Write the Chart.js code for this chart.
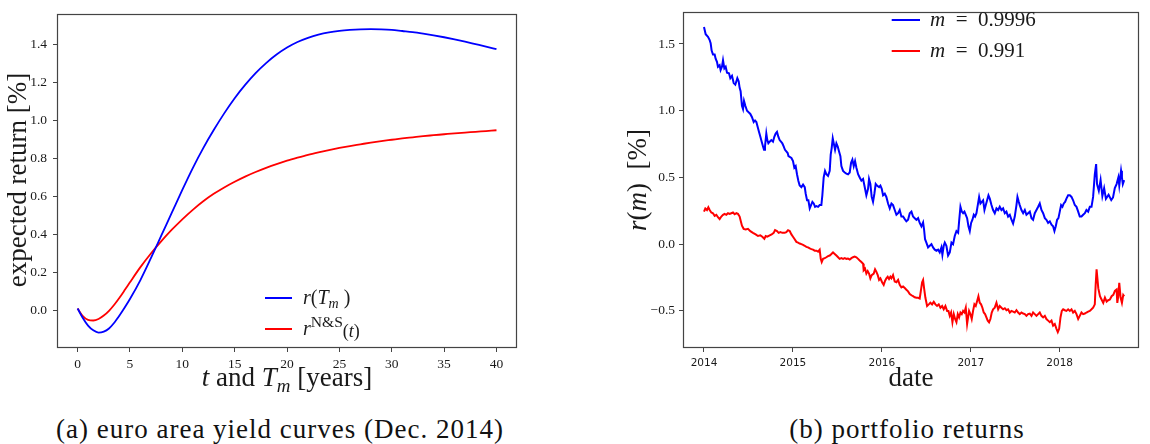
<!DOCTYPE html>
<html>
<head>
<meta charset="utf-8">
<script src="https://cdn.jsdelivr.net/npm/chart.js@4.4.1/dist/chart.umd.min.js"></script>
<style>
  html, body { margin:0; padding:0; background:#fff; }
  #wrap { position:relative; width:1150px; height:444px; overflow:hidden; }
  canvas { position:absolute; top:0; }
  .cap { position:absolute; top:413px; font-family:"Liberation Serif", serif; font-size:27px; letter-spacing:1px; color:#111; white-space:nowrap; transform:translateX(-50%); line-height:32px; }
</style>
</head>
<body>
<div id="wrap">
  <canvas id="c1" width="575" height="400" style="left:0px"></canvas>
  <canvas id="c2" width="575" height="400" style="left:575px"></canvas>
  <div class="cap" style="left:280px">(a) euro area yield curves (Dec. 2014)</div>
  <div class="cap" style="left:907px">(b) portfolio returns</div>
</div>
<script>
// ---------- (a) yield curves ----------
const maturities = [0,0.5,1,1.5,2,2.5,3,3.5,4,4.5,5,6,7,8,9,10,11,12,13,14,15,16,17,18,19,20,21,22,23,24,25,26,27,28,29,30,31,32,33,34,35,36,37,38,39,40];
const rTm = [0.01,-0.04,-0.08,-0.105,-0.117,-0.112,-0.095,-0.065,-0.027,0.015,0.06,0.16,0.275,0.395,0.515,0.635,0.75,0.855,0.95,1.038,1.118,1.188,1.25,1.303,1.348,1.385,1.414,1.436,1.453,1.465,1.473,1.478,1.481,1.482,1.481,1.478,1.472,1.466,1.458,1.449,1.439,1.428,1.416,1.403,1.39,1.376];
const rNS = [0.01,-0.03,-0.05,-0.053,-0.045,-0.027,-0.002,0.03,0.067,0.107,0.148,0.228,0.3,0.365,0.425,0.48,0.53,0.575,0.614,0.648,0.678,0.705,0.729,0.751,0.771,0.789,0.805,0.82,0.833,0.845,0.856,0.866,0.875,0.884,0.892,0.899,0.906,0.912,0.918,0.923,0.928,0.933,0.937,0.941,0.945,0.949];
const aTicksX = [0,5,10,15,20,25,30,35,40];
const aTicksY = [0.0,0.2,0.4,0.6,0.8,1.0,1.2,1.4];

// ---------- (b) portfolio returns ----------
const blueDates = [2014.000,2014.019,2014.045,2014.064,2014.075,2014.086,2014.101,2014.120,2014.131,2014.146,2014.157,2014.176,2014.187,2014.202,2014.214,2014.229,2014.244,2014.259,2014.281,2014.296,2014.315,2014.334,2014.352,2014.375,2014.390,2014.401,2014.412,2014.427,2014.439,2014.450,2014.465,2014.484,2014.502,2014.521,2014.540,2014.559,2014.574,2014.589,2014.604,2014.619,2014.634,2014.649,2014.664,2014.675,2014.686,2014.701,2014.712,2014.724,2014.739,2014.757,2014.776,2014.791,2014.806,2014.821,2014.836,2014.851,2014.866,2014.881,2014.896,2014.911,2014.926,2014.941,2014.950,2014.983,2015.001,2015.016,2015.031,2015.046,2015.061,2015.076,2015.095,2015.114,2015.133,2015.144,2015.159,2015.174,2015.189,2015.204,2015.219,2015.234,2015.249,2015.264,2015.283,2015.301,2015.320,2015.331,2015.346,2015.361,2015.376,2015.395,2015.414,2015.425,2015.436,2015.448,2015.459,2015.474,2015.489,2015.504,2015.519,2015.534,2015.545,2015.564,2015.583,2015.601,2015.620,2015.639,2015.654,2015.669,2015.684,2015.699,2015.714,2015.733,2015.751,2015.770,2015.789,2015.808,2015.826,2015.845,2015.856,2015.871,2015.886,2015.901,2015.916,2015.931,2015.946,2015.969,2015.984,2015.999,2016.014,2016.033,2016.051,2016.070,2016.089,2016.108,2016.126,2016.145,2016.164,2016.183,2016.201,2016.220,2016.239,2016.258,2016.276,2016.295,2016.314,2016.333,2016.351,2016.370,2016.389,2016.408,2016.426,2016.445,2016.464,2016.475,2016.486,2016.501,2016.520,2016.539,2016.558,2016.576,2016.595,2016.614,2016.633,2016.651,2016.670,2016.681,2016.696,2016.708,2016.726,2016.745,2016.764,2016.783,2016.801,2016.820,2016.839,2016.858,2016.869,2016.884,2016.899,2016.914,2016.929,2016.944,2016.959,2016.974,2016.989,2017.004,2017.019,2017.034,2017.049,2017.064,2017.079,2017.094,2017.109,2017.124,2017.139,2017.154,2017.169,2017.184,2017.199,2017.214,2017.233,2017.251,2017.270,2017.289,2017.308,2017.326,2017.345,2017.364,2017.383,2017.401,2017.420,2017.439,2017.458,2017.476,2017.495,2017.514,2017.525,2017.540,2017.551,2017.570,2017.589,2017.608,2017.626,2017.645,2017.664,2017.683,2017.701,2017.720,2017.739,2017.758,2017.776,2017.795,2017.814,2017.833,2017.851,2017.870,2017.889,2017.908,2017.926,2017.941,2017.956,2017.971,2017.986,2018.001,2018.016,2018.031,2018.046,2018.061,2018.076,2018.095,2018.114,2018.133,2018.151,2018.170,2018.189,2018.208,2018.226,2018.245,2018.264,2018.283,2018.301,2018.320,2018.339,2018.358,2018.376,2018.395,2018.410,2018.420,2018.440,2018.460,2018.480,2018.500,2018.520,2018.550,2018.580,2018.600,2018.620,2018.640,2018.660,2018.670,2018.690,2018.700,2018.710,2018.725];
const blueReturns = [1.627,1.573,1.554,1.529,1.505,1.451,1.422,1.422,1.390,1.366,1.329,1.341,1.305,1.329,1.378,1.317,1.329,1.285,1.280,1.244,1.261,1.207,1.195,1.244,1.220,1.171,1.146,1.037,1.012,1.073,1.037,1.000,0.988,0.976,0.951,0.915,0.927,0.915,0.878,0.841,0.805,0.768,0.732,0.707,0.732,0.829,0.780,0.756,0.768,0.780,0.768,0.805,0.829,0.841,0.805,0.780,0.768,0.756,0.732,0.707,0.695,0.683,0.660,0.646,0.622,0.573,0.585,0.524,0.476,0.439,0.427,0.446,0.427,0.378,0.329,0.329,0.268,0.293,0.317,0.305,0.280,0.285,0.280,0.293,0.293,0.366,0.500,0.549,0.524,0.512,0.549,0.671,0.720,0.793,0.756,0.707,0.756,0.732,0.695,0.659,0.585,0.549,0.537,0.529,0.524,0.537,0.610,0.634,0.585,0.622,0.573,0.524,0.500,0.476,0.488,0.427,0.366,0.415,0.488,0.451,0.354,0.317,0.378,0.451,0.439,0.427,0.439,0.415,0.366,0.378,0.354,0.305,0.268,0.305,0.293,0.256,0.220,0.232,0.256,0.207,0.207,0.188,0.171,0.183,0.232,0.244,0.207,0.195,0.183,0.195,0.159,0.134,0.163,0.110,0.037,0.012,-0.024,-0.012,0.000,-0.024,-0.041,-0.049,-0.041,-0.061,-0.024,-0.080,-0.012,0.012,-0.012,-0.085,-0.061,0.012,0.000,0.061,0.098,0.085,0.171,0.280,0.244,0.232,0.244,0.220,0.195,0.134,0.098,0.159,0.183,0.220,0.207,0.232,0.293,0.354,0.305,0.317,0.329,0.256,0.293,0.329,0.366,0.341,0.293,0.256,0.232,0.268,0.256,0.280,0.256,0.268,0.232,0.244,0.207,0.220,0.183,0.154,0.207,0.293,0.354,0.317,0.293,0.256,0.232,0.256,0.220,0.232,0.244,0.195,0.183,0.232,0.256,0.280,0.305,0.256,0.232,0.195,0.183,0.159,0.171,0.146,0.134,0.098,0.134,0.183,0.195,0.244,0.293,0.280,0.305,0.317,0.341,0.366,0.366,0.354,0.329,0.293,0.280,0.244,0.207,0.207,0.220,0.232,0.256,0.244,0.280,0.280,0.354,0.524,0.600,0.450,0.400,0.480,0.360,0.420,0.340,0.370,0.330,0.350,0.420,0.450,0.500,0.440,0.550,0.500,0.450,0.480];
const redDates = [2014.000,2014.015,2014.034,2014.049,2014.064,2014.082,2014.101,2014.120,2014.139,2014.157,2014.176,2014.195,2014.214,2014.232,2014.251,2014.270,2014.289,2014.307,2014.326,2014.345,2014.364,2014.382,2014.401,2014.412,2014.427,2014.446,2014.469,2014.495,2014.521,2014.551,2014.581,2014.607,2014.634,2014.656,2014.679,2014.694,2014.712,2014.739,2014.761,2014.784,2014.799,2014.821,2014.840,2014.859,2014.881,2014.907,2014.926,2014.945,2014.964,2014.983,2015.001,2015.020,2015.039,2015.058,2015.076,2015.095,2015.114,2015.133,2015.151,2015.170,2015.189,2015.208,2015.226,2015.245,2015.264,2015.283,2015.301,2015.313,2015.324,2015.339,2015.358,2015.376,2015.395,2015.414,2015.433,2015.451,2015.470,2015.489,2015.508,2015.526,2015.545,2015.564,2015.583,2015.601,2015.620,2015.639,2015.658,2015.676,2015.695,2015.714,2015.733,2015.751,2015.770,2015.789,2015.796,2015.811,2015.826,2015.841,2015.856,2015.871,2015.886,2015.909,2015.924,2015.939,2015.954,2015.969,2015.984,2016.003,2016.021,2016.036,2016.051,2016.066,2016.081,2016.096,2016.108,2016.126,2016.145,2016.164,2016.183,2016.201,2016.220,2016.239,2016.258,2016.276,2016.295,2016.314,2016.333,2016.351,2016.370,2016.389,2016.408,2016.426,2016.438,2016.453,2016.464,2016.475,2016.490,2016.509,2016.528,2016.546,2016.565,2016.584,2016.603,2016.621,2016.640,2016.659,2016.678,2016.696,2016.715,2016.734,2016.749,2016.764,2016.779,2016.794,2016.809,2016.824,2016.839,2016.854,2016.869,2016.884,2016.899,2016.914,2016.929,2016.944,2016.959,2016.970,2016.981,2016.996,2017.011,2017.026,2017.041,2017.056,2017.071,2017.086,2017.101,2017.116,2017.131,2017.146,2017.161,2017.176,2017.191,2017.206,2017.221,2017.236,2017.251,2017.270,2017.289,2017.308,2017.326,2017.345,2017.364,2017.383,2017.401,2017.420,2017.439,2017.458,2017.476,2017.495,2017.514,2017.533,2017.551,2017.570,2017.589,2017.608,2017.626,2017.645,2017.664,2017.683,2017.701,2017.720,2017.739,2017.758,2017.776,2017.795,2017.814,2017.833,2017.851,2017.870,2017.889,2017.908,2017.926,2017.945,2017.964,2017.979,2017.994,2018.009,2018.024,2018.039,2018.058,2018.076,2018.095,2018.114,2018.133,2018.151,2018.170,2018.189,2018.208,2018.226,2018.245,2018.264,2018.283,2018.301,2018.320,2018.339,2018.358,2018.376,2018.395,2018.405,2018.415,2018.434,2018.453,2018.471,2018.490,2018.509,2018.528,2018.546,2018.565,2018.584,2018.603,2018.621,2018.640,2018.648,2018.659,2018.670,2018.685,2018.700,2018.715,2018.726];
const redReturns = [0.244,0.268,0.256,0.276,0.256,0.237,0.232,0.212,0.220,0.202,0.188,0.207,0.220,0.227,0.220,0.232,0.227,0.232,0.237,0.224,0.232,0.227,0.207,0.178,0.139,0.115,0.110,0.115,0.098,0.085,0.073,0.061,0.066,0.056,0.041,0.061,0.056,0.066,0.073,0.085,0.105,0.098,0.085,0.090,0.085,0.085,0.090,0.105,0.098,0.073,0.056,0.037,0.017,0.012,0.005,0.000,-0.005,-0.012,-0.020,-0.024,-0.032,-0.037,-0.041,-0.049,-0.049,-0.056,-0.041,-0.110,-0.134,-0.110,-0.105,-0.098,-0.090,-0.085,-0.073,-0.061,-0.073,-0.085,-0.098,-0.110,-0.105,-0.110,-0.105,-0.110,-0.108,-0.115,-0.105,-0.098,-0.093,-0.098,-0.110,-0.122,-0.134,-0.146,-0.195,-0.183,-0.220,-0.202,-0.220,-0.256,-0.232,-0.220,-0.188,-0.207,-0.232,-0.268,-0.256,-0.285,-0.305,-0.276,-0.256,-0.244,-0.261,-0.244,-0.256,-0.232,-0.280,-0.285,-0.268,-0.305,-0.324,-0.317,-0.329,-0.341,-0.354,-0.373,-0.383,-0.390,-0.398,-0.402,-0.402,-0.407,-0.354,-0.285,-0.268,-0.329,-0.402,-0.463,-0.451,-0.439,-0.451,-0.432,-0.451,-0.463,-0.451,-0.476,-0.463,-0.488,-0.463,-0.500,-0.500,-0.537,-0.512,-0.585,-0.524,-0.561,-0.585,-0.524,-0.549,-0.512,-0.524,-0.500,-0.512,-0.476,-0.598,-0.549,-0.500,-0.524,-0.561,-0.500,-0.451,-0.463,-0.427,-0.390,-0.439,-0.451,-0.476,-0.512,-0.524,-0.549,-0.573,-0.585,-0.561,-0.512,-0.488,-0.476,-0.439,-0.488,-0.463,-0.476,-0.488,-0.480,-0.495,-0.488,-0.512,-0.500,-0.505,-0.512,-0.495,-0.512,-0.524,-0.512,-0.520,-0.524,-0.537,-0.524,-0.520,-0.537,-0.512,-0.524,-0.537,-0.524,-0.512,-0.537,-0.549,-0.537,-0.561,-0.573,-0.585,-0.573,-0.610,-0.598,-0.634,-0.659,-0.634,-0.549,-0.500,-0.488,-0.495,-0.500,-0.488,-0.500,-0.488,-0.512,-0.500,-0.524,-0.561,-0.537,-0.512,-0.524,-0.520,-0.512,-0.505,-0.500,-0.488,-0.476,-0.451,-0.300,-0.188,-0.330,-0.390,-0.415,-0.440,-0.400,-0.430,-0.420,-0.415,-0.390,-0.380,-0.350,-0.340,-0.440,-0.390,-0.290,-0.400,-0.440,-0.380,-0.390];
const bTicksX = [2014,2015,2016,2017,2018];
const bTicksY = [-0.5,0.0,0.5,1.0,1.5];
const seriesLabelsB = ['m = 0.9996','m = 0.991'];

// ---------- helpers ----------
const SERIF = '"Liberation Serif", "Times New Roman", serif';
const TXT = '#1a1a1a';
const FRAME = '#444';

function segFont(s, size){ return (s.it ? 'italic ' : '') + (size*(s.sc||1)) + 'px ' + SERIF; }
function drawRich(ctx, segs, x, y, size, align){
  let total = 0;
  const ws = segs.map(s => { ctx.font = segFont(s,size); const w = ctx.measureText(s.t).width + (s.gap||0); total += w; return w; });
  let cx = align === 'center' ? x - total/2 : x;
  ctx.textBaseline = 'alphabetic';
  ctx.textAlign = 'left';
  segs.forEach((s,i) => {
    ctx.font = segFont(s,size);
    ctx.fillText(s.t, cx + (s.pre||0), y + (s.dy||0)*size);
    cx += ws[i];
  });
}

function decoPlugin(cfg){
  return {
    id: 'deco',
    afterDraw(chart){
      const ctx = chart.ctx, a = chart.chartArea;
      ctx.save();
      ctx.strokeStyle = FRAME; ctx.lineWidth = 1.2;
      ctx.strokeRect(Math.round(a.left)+0.5, Math.round(a.top)+0.5, Math.round(a.right-a.left)-1, Math.round(a.bottom-a.top)-1);
      ctx.fillStyle = TXT;
      drawRich(ctx, cfg.xTitle, (a.left+a.right)/2, cfg.xTitleY, cfg.titleSize, 'center');
      ctx.save();
      ctx.translate(cfg.yTitleX, cfg.yTitleCY);
      ctx.rotate(-Math.PI/2);
      drawRich(ctx, cfg.yTitle, 0, 0, cfg.titleSize, 'center');
      ctx.restore();
      chart.data.datasets.forEach((ds, i) => {
        const L = cfg.legend[i];
        ctx.strokeStyle = ds.borderColor; ctx.lineWidth = 2;
        ctx.beginPath(); ctx.moveTo(L.x1, L.y); ctx.lineTo(L.x2, L.y); ctx.stroke();
        ctx.fillStyle = TXT;
        drawRich(ctx, L.segs, L.tx, L.y + cfg.legendSize*0.3, cfg.legendSize, 'left');
      });
      ctx.restore();
    }
  };
}

function axisCfg(min, max, ticks, fmt, font, pad, fitKey, fitVal){
  return {
    type: 'linear', min, max,
    afterBuildTicks: s => { s.ticks = ticks.map(v => ({value: v})); },
    afterFit: s => { s[fitKey] = fitVal; },
    ticks: { autoSkip:false, maxRotation:0, minRotation:0, padding:pad, color:TXT, font, callback: v => fmt(v) },
    grid: { drawOnChartArea:false, drawTicks:true, tickLength:4, color:FRAME, lineWidth:1 },
    border: { display:false }
  };
}
const fmt1 = v => (v < 0 ? '\u2212' : '') + Math.abs(v).toFixed(1);

// ---------- chart (a) ----------
new Chart(document.getElementById('c1'), {
  type: 'line',
  data: {
    datasets: [
      { label:'r(T_m)', data: maturities.map((t,i)=>({x:t,y:rTm[i]})), borderColor:'#0000ff', borderWidth:1.8, pointRadius:0, cubicInterpolationMode:'monotone', fill:false },
      { label:'r^N&S(t)', data: maturities.map((t,i)=>({x:t,y:rNS[i]})), borderColor:'#ff0000', borderWidth:1.8, pointRadius:0, cubicInterpolationMode:'monotone', fill:false }
    ]
  },
  options: {
    responsive:false, animation:false, devicePixelRatio:1,
    layout: { padding: { left:0, right:58, top:4, bottom:0 } },
    plugins: { legend:{display:false}, tooltip:{enabled:false} },
    scales: {
      x: axisCfg(-1.965, 41.96, aTicksX, v => String(v), {family:SERIF, size:13.5}, 4, 'height', 52),
      y: axisCfg(-0.198, 1.561, aTicksY, fmt1, {family:SERIF, size:13.5}, 6, 'width', 57)
    }
  },
  plugins: [decoPlugin({
    titleSize: 27,
    xTitle: [{t:'t',it:1},{t:' and '},{t:'T',it:1},{t:'m',it:1,sc:0.7,dy:0.22},{t:' [years]'}],
    xTitleY: 386,
    yTitle: [{t:'expected return [%]'}],
    yTitleX: 26, yTitleCY: 180,
    legendSize: 20,
    legend: [
      { x1:265, x2:292, y:298, tx:303, segs:[{t:'r',it:1},{t:'('},{t:'T',it:1},{t:'m',it:1,sc:0.7,dy:0.22},{t:' )'}] },
      { x1:265, x2:292, y:329, tx:303, segs:[{t:'r',it:1},{t:'N&S',sc:0.78,dy:-0.42},{t:'(',sc:0.9,dy:0.12},{t:'t',it:1,sc:0.9,dy:0.12},{t:')',sc:0.9,dy:0.12}] }
    ]
  })]
});

// ---------- chart (b) ----------
new Chart(document.getElementById('c2'), {
  type: 'line',
  data: {
    datasets: [
      { label: seriesLabelsB[0], data: blueDates.map((d,i)=>({x:d,y:blueReturns[i]})), borderColor:'#0000ff', borderWidth:2, pointRadius:0, tension:0, fill:false },
      { label: seriesLabelsB[1], data: redDates.map((d,i)=>({x:d,y:redReturns[i]})), borderColor:'#ff0000', borderWidth:2, pointRadius:0, tension:0, fill:false }
    ]
  },
  options: {
    responsive:false, animation:false, devicePixelRatio:1,
    layout: { padding: { left:0, right:11, top:4, bottom:0 } },
    plugins: { legend:{display:false}, tooltip:{enabled:false} },
    scales: {
      x: axisCfg(2013.764, 2018.892, bTicksX, v => String(v), {family:'"DejaVu Sans", sans-serif', size:10.5}, 5, 'height', 52),
      y: axisCfg(-0.778, 1.739, bTicksY, fmt1, {family:SERIF, size:13.5}, 4, 'width', 108)
    }
  },
  plugins: [decoPlugin({
    titleSize: 27,
    xTitle: [{t:'date'}],
    xTitleY: 386,
    yTitle: [{t:'r',it:1},{t:'('},{t:'m',it:1},{t:')  [%]'}],
    yTitleX: 646 - 575, yTitleCY: 180,
    legendSize: 21,
    legend: [
      { x1:891.7-575, x2:920-575, y:20, tx:930-575, segs:[{t:'m',it:1},{t:'  =  '},{t:'0.9996'}] },
      { x1:891.7-575, x2:920-575, y:51, tx:930-575, segs:[{t:'m',it:1},{t:'  =  '},{t:'0.991'}] }
    ]
  })]
});
</script>
</body>
</html>
